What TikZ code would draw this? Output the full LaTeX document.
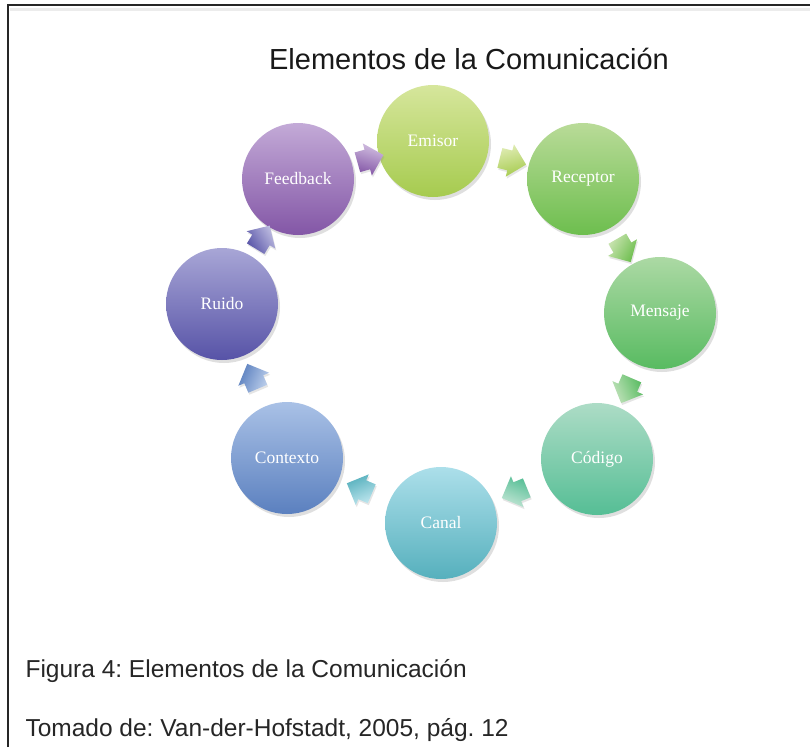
\documentclass[tikz,border=0pt]{standalone}
\usepackage{fontspec}
\setmainfont{Liberation Serif}
\newfontfamily\arialfont{Liberation Sans}
\usetikzlibrary{calc,shapes.arrows,shadows}
\frenchspacing

\definecolor{emisorA}{HTML}{D6E69C}
\definecolor{emisorB}{HTML}{A6CB4F}
\definecolor{receptorA}{HTML}{B9DB98}
\definecolor{receptorB}{HTML}{6DBE4E}
\definecolor{mensajeA}{HTML}{ACD9A4}
\definecolor{mensajeB}{HTML}{58BB61}
\definecolor{codigoA}{HTML}{ADDCC6}
\definecolor{codigoB}{HTML}{55BE95}
\definecolor{canalA}{HTML}{ACDFEA}
\definecolor{canalB}{HTML}{56B0BD}
\definecolor{contextoA}{HTML}{A9C1E6}
\definecolor{contextoB}{HTML}{5B80BF}
\definecolor{ruidoA}{HTML}{A8A6D6}
\definecolor{ruidoB}{HTML}{5753A7}
\definecolor{feedbackA}{HTML}{C3AAD7}
\definecolor{feedbackB}{HTML}{8356A6}

\begin{document}
\begin{tikzpicture}[x=1pt, y=-1pt,
				elem/.style={circle, minimum size=112pt, inner sep=0pt, text=white,
					font=\fontsize{17.5}{19}\selectfont,
					drop shadow={opacity=0.25, shadow xshift=2pt, shadow yshift=-3pt}},
				flecha/.style={single arrow, minimum height=27pt, minimum width=33pt,
					single arrow head extend=6.5pt, inner xsep=0pt, inner ysep=10pt,
					drop shadow={opacity=0.2, shadow xshift=1pt, shadow yshift=-2pt}},
				caption/.style={anchor=base west, font=\arialfont\fontsize{24.5}{28}\selectfont, text=black!85}
			]
			\fill[white] (0,0) rectangle (810,747);
			\useasboundingbox (0,0) rectangle (810,747);
			% frame
			\draw[gray!15, line width=3pt] (10,9) -- (810,9);
			\draw[black!85, line width=2pt] (8,747) -- (8,5) -- (810,5);
			\node[anchor=base, font=\arialfont\fontsize{29}{32}\selectfont, text=black!90] (title) at (469,69) {Elementos de la Comunicación};
			% elements
			\node[elem, top color=emisorA, bottom color=emisorB] (emisor) at (433,141) {Emisor};
			\node[elem, top color=receptorA, bottom color=receptorB] (receptor) at (583,179) {Receptor};
			\node[elem, top color=mensajeA, bottom color=mensajeB] (mensaje) at (660,313) {Mensaje};
			\node[elem, top color=codigoA, bottom color=codigoB] (codigo) at (597,459) {Código};
			\node[elem, top color=canalA, bottom color=canalB] (canal) at (441,523) {Canal};
			\node[elem, top color=contextoA, bottom color=contextoB] (contexto) at (287,458) {Contexto};
			\node[elem, top color=ruidoA, bottom color=ruidoB] (ruido) at (222,304) {Ruido};
			\node[elem, top color=feedbackA, bottom color=feedbackB] (feedback) at (298,179) {Feedback};
			% arrows
			\foreach \a/\b in {emisor/receptor, receptor/mensaje, mensaje/codigo, codigo/canal,
				canal/contexto, contexto/ruido, ruido/feedback, feedback/emisor}
				\path let \p1=($(\b)-(\a)$), \n1={atan2(\y1,\x1)} in
					node[flecha, rotate=\n1, top color=\a A!75!white, bottom color=\a B, shading angle={-\n1}]
					(f-\a) at ($(\a)!0.5!(\b)$) {};
			% captions
			\node[caption] (fig) at (22,677) {Figura 4: Elementos de la Comunicación};
			\node[caption] (src) at (22,736) {Tomado de: Van-der-Hofstadt, 2005, pág. 12};
			\end{tikzpicture}
\end{document}
